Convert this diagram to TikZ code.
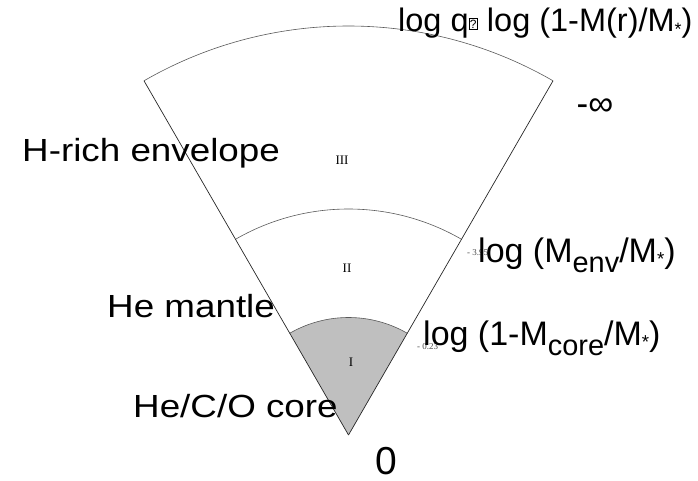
\documentclass[tikz,border=0pt]{standalone}
\usepackage{fontspec}
\usepackage{graphicx}
\usetikzlibrary{calc}
\setmainfont{Liberation Sans}
\newfontfamily\widefont[FakeStretch=1.15]{Liberation Sans}
\newfontfamily\romfont{Liberation Serif}
\newcommand\lowsub[1]{\raisebox{-0.3em}{\scalebox{0.85}{#1}}}
\newcommand\starsub{\raisebox{-0.1em}{\scalebox{0.55}{*}}}
\begin{document}
\begin{tikzpicture}[x=1pt,y=1pt,
  edge/.style={draw=black!85,line width=0.7pt},
  shell/.style={draw=black!65,line width=0.6pt},
  lefttxt/.style={font=\widefont\fontsize{32}{32}\selectfont,anchor=base west,inner sep=0pt},
  righttxt/.style={font=\fontsize{34}{34}\selectfont,anchor=base west,inner sep=0pt},
  roman/.style={font=\romfont\fontsize{13}{13}\selectfont,inner sep=0pt},
  tiny/.style={font=\romfont\fontsize{9}{9}\selectfont,inner sep=0pt,text=black!70}]
\useasboundingbox (0,0) rectangle (698,480);
\coordinate (apex) at (348.5,45);
\coordinate (outL) at ($(apex)+(120:409)$);
\coordinate (outR) at ($(apex)+(60:409)$);
\coordinate (midL) at ($(apex)+(120:226)$);
\coordinate (coreL) at ($(apex)+(120:117.5)$);
% core
\fill[gray!50] (apex) -- (coreL) arc (120:60:117.5) -- cycle;
\draw[shell] (coreL) arc (120:60:117.5);
\draw[shell] (midL) arc (120:60:226);
\draw[shell] (outL) arc (120:60:409);
\draw[edge] (apex) -- (outL);
\draw[edge] (apex) -- (outR);
% roman numerals
\node[roman] (r3) at (342,320) {III};
\node[roman] (r2) at (347,212) {II};
\node[roman] (r1) at (351,118) {I};
% tiny labels
\node[tiny,anchor=west] (t1) at (467,227) {- 3.95};
\node[tiny,anchor=west] (t2) at (417,133) {- 0.23};
% left labels
\node[lefttxt] (env) at (22,318) {H-rich envelope};
\node[lefttxt] (man) at (107,163) {He mantle};
\node[lefttxt] (cor) at (133,63) {He/C/O core};
% right labels
\node[font=\fontsize{32.5}{32.5}\selectfont,anchor=base west,inner sep=0pt] (top) at (398,448)
  {log q{\setlength\fboxsep{0.8pt}\setlength\fboxrule{0.5pt}\raisebox{0.12em}{\fbox{\fontsize{12}{12}\selectfont ?}}} log (1-M(r)/M\starsub)};
\node[font=\fontsize{35}{35}\selectfont,inner sep=0pt] (inf) at (595,373) {-∞};
\node[righttxt] (menv) at (478,218) {log (M\lowsub{env}/M\starsub)};
\node[righttxt] (mcore) at (423,135) {log (1-M\lowsub{core}/M\starsub)};
\node[font=\fontsize{39}{39}\selectfont,inner sep=0pt] (zero) at (386.5,19) {0};
\end{tikzpicture}
\end{document}
